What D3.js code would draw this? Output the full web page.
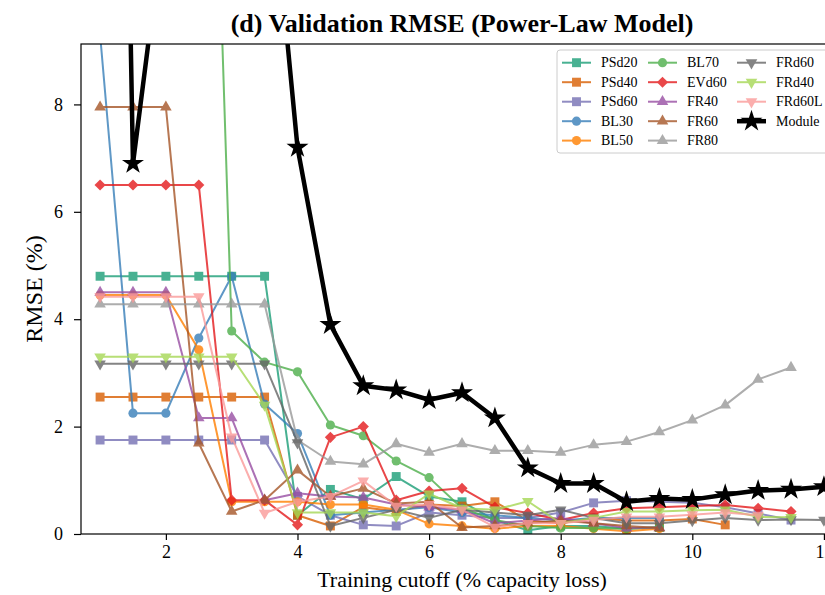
<!DOCTYPE html>
<html><head><meta charset="utf-8">
<script src="https://cdn.jsdelivr.net/npm/d3@7"></script>
<style>body{margin:0;background:#fff}svg{display:block}
svg text{font-family:"Liberation Serif","DejaVu Serif",serif}</style>
</head><body>
<script>
// ---- data ----
const cutoffs = [1,1.5,2,2.5,3,3.5,4,4.5,5,5.5,6,6.5,7,7.5,8,8.5,9,9.5,10,10.5,11,11.5,12];
const seriesNames = ["PSd20","PSd40","PSd60","BL30","BL50","BL70","EVd60","FR40","FR60","FR80","FRd60","FRd40","FRd60L","Module"];
const PSd20 = [4.8,4.8,4.8,4.8,4.8,4.8,0.35,0.83,0.65,1.07,0.7,0.6,0.26,0.07,0.15,0.15,0.1,0.12];
const PSd40 = [2.55,2.55,2.55,2.55,2.55,2.55,0.35,0.15,0.5,0.42,0.55,0.52,0.6,0.25,0.2,0.3,0.25,0.25,0.28,0.17];
const PSd60 = [1.75,1.75,1.75,1.75,1.75,1.75,0.7,0.35,0.17,0.15,0.4,0.35,0.3,0.3,0.4,0.58,0.62,0.6,0.58,0.5,0.38,0.26];
const BL30 = [9.3,2.25,2.25,3.65,4.8,2.42,1.87,0.35,0.4,0.45,0.5,0.4,0.35,0.3,0.25,0.3,0.3,0.3];
const BL50 = [4.45,4.45,4.45,3.43,0.6,0.6,0.6,0.55,0.55,0.45,0.19,0.15,0.1,0.15,0.15,0.1,0.05,0.1];
const BL70 = [30,28,25,22.7,3.78,3.2,3.02,2.03,1.83,1.36,1.05,0.48,0.26,0.15,0.11,0.11,0.1,0.13];
const EVd60 = [6.5,6.5,6.5,6.5,0.63,0.63,0.17,1.8,2.0,0.63,0.8,0.85,0.5,0.39,0.26,0.39,0.48,0.5,0.52,0.54,0.48,0.42];
const FR40 = [4.5,4.5,4.5,2.16,2.16,0.63,0.76,0.7,0.68,0.55,0.5,0.45,0.2,0.25,0.3,0.2,0.11,0.12];
const FR60 = [7.95,7.95,7.95,1.69,0.42,0.63,1.19,0.7,0.85,0.57,0.6,0.12,0.15,0.2,0.25,0.2,0.15,0.11];
const FR80 = [4.28,4.28,4.28,4.28,4.28,4.28,1.75,1.35,1.3,1.68,1.52,1.68,1.55,1.55,1.52,1.66,1.72,1.9,2.12,2.4,2.88,3.1];
const FRd60 = [3.17,3.17,3.17,3.17,3.17,3.17,1.7,0.15,0.3,0.45,0.3,0.45,0.4,0.35,0.45,0.3,0.2,0.2,0.25,0.3,0.26,0.27,0.26];
const FRd40 = [3.3,3.3,3.3,3.3,3.3,2.4,0.4,0.4,0.4,0.33,0.75,0.48,0.45,0.61,0.2,0.3,0.42,0.42,0.44,0.45,0.32,0.31];
const FRd60L = [4.42,4.42,4.42,4.42,1.81,0.39,0.6,0.7,0.99,0.52,0.55,0.45,0.13,0.2,0.2,0.26,0.32,0.32,0.36,0.4,0.35];
const Module = [40,6.9,11.7,14,15,13.6,7.2,3.9,2.76,2.68,2.5,2.63,2.16,1.23,0.94,0.94,0.6,0.66,0.64,0.73,0.81,0.83,0.88];
const xTicks = [2,4,6,8,10,12];
const yTicks = [0,2,4,6,8];
const titleText = "(d) Validation RMSE (Power-Law Model)";
const xLabel = "Training cutoff (% capacity loss)";
const yLabel = "RMSE (%)";

const values = {PSd20,PSd40,PSd60,BL30,BL50,BL70,EVd60,FR40,FR60,FR80,FRd60,FRd40,FRd60L,Module};
const colors = {PSd20:"#1b9e77",PSd40:"#d95f02",PSd60:"#7570b3",BL30:"#377eb8",BL50:"#ff7f00",BL70:"#4daf4a",
  EVd60:"#e41a1c",FR40:"#984ea3",FR60:"#a65628",FR80:"#999999",FRd60:"#666666",FRd40:"#a6d854",FRd60L:"#fb9a99",Module:"#000000"};
const markers = {PSd20:"s",PSd40:"s",PSd60:"s",BL30:"o",BL50:"o",BL70:"o",EVd60:"D",FR40:"^",FR60:"^",FR80:"^",
  FRd60:"v",FRd40:"v",FRd60L:"v",Module:"*"};

// ---- layout ----
const W = 825, H = 595;
const L = 81, R = 843, T = 44, B = 534;
const x = d3.scaleLinear().domain([0.71, 12.29]).range([L, R]);
const y = d3.scaleLinear().domain([0, 9.125]).range([B, T]);
const serif = '"Liberation Serif","DejaVu Serif",serif';

const svg = d3.select("body").append("svg").attr("width", W).attr("height", H);
svg.append("rect").attr("width", W).attr("height", H).attr("fill", "#fff");
svg.append("defs").append("clipPath").attr("id", "clip")
  .append("rect").attr("x", L).attr("y", T).attr("width", R - L).attr("height", B - T);

function markerPath(m) {
  switch (m) {
    case "s": return {d: d3.symbol(d3.symbolSquare, 80)(), rot: 0};
    case "o": return {d: d3.symbol(d3.symbolCircle, 66)(), rot: 0};
    case "D": return {d: d3.symbol(d3.symbolSquare, 62)(), rot: 45};
    case "^": return {d: d3.symbol(d3.symbolTriangle, 58)(), rot: 0};
    case "v": return {d: d3.symbol(d3.symbolTriangle, 58)(), rot: 180};
    case "*": return {d: d3.symbol(d3.symbolStar, 150)(), rot: 0};
  }
}

// ---- series ----
const plot = svg.append("g").attr("clip-path", "url(#clip)");
seriesNames.forEach(name => {
  const pts = values[name].map((v, i) => [cutoffs[i], v]);
  const isMod = name === "Module";
  const g = plot.append("g").attr("opacity", isMod ? 1 : 0.8);
  g.append("path").attr("d", d3.line().x(d => x(d[0])).y(d => y(d[1]))(pts))
    .attr("fill", "none").attr("stroke", colors[name]).attr("stroke-width", isMod ? 4.5 : 2)
    .attr("stroke-linejoin", "round");
  const mp = markerPath(markers[name]);
  g.selectAll("path.m").data(pts).join("path").attr("class", "m")
    .attr("d", mp.d).attr("fill", colors[name])
    .attr("transform", d => `translate(${x(d[0])},${y(d[1])}) rotate(${mp.rot})`);
});

// ---- axes ----
const xAxis = d3.axisBottom(x).tickValues(xTicks).tickSize(6).tickPadding(5).tickFormat(d3.format("d"));
const yAxis = d3.axisLeft(y).tickValues(yTicks).tickSize(7).tickPadding(11).tickFormat(d3.format("d"));
const gx = svg.append("g").attr("transform", `translate(0,${B})`).call(xAxis);
const gy = svg.append("g").attr("transform", `translate(${L},0)`).call(yAxis);
[gx, gy].forEach(g => {
  g.attr("font-family", serif).attr("font-size", 18);
  g.select(".domain").remove();
  g.selectAll("line").attr("stroke", "#000").attr("stroke-width", 1.2);
  g.selectAll("text").style("font-family", serif).style("font-size", "18px").attr("fill", "#000");
});
// frame
svg.append("rect").attr("x", L).attr("y", T).attr("width", R - L).attr("height", B - T)
  .attr("fill", "none").attr("stroke", "#000").attr("stroke-width", 1.2);

// ---- labels ----
svg.append("text").attr("x", 462).attr("y", 32).attr("text-anchor", "middle")
  .style("font-weight", "bold").style("font-size", "26px").text(titleText);
svg.append("text").attr("x", 462).attr("y", 587).attr("text-anchor", "middle")
  .style("font-size", "22px").text(xLabel);
svg.append("text").attr("transform", "translate(42,289) rotate(-90)").attr("text-anchor", "middle")
  .style("font-size", "24px").text(yLabel);

// ---- legend ----
const lg = svg.append("g");
lg.append("rect").attr("x", 557).attr("y", 50).attr("width", 300).attr("height", 103).attr("rx", 3)
  .attr("fill", "#fff").attr("fill-opacity", 0.8).attr("stroke", "#cccccc").attr("stroke-width", 1);
const colX = [562, 648, 737];
const rowY = [62.7, 82.2, 101.7, 121.2, 140.6];
seriesNames.forEach((name, i) => {
  const c = Math.floor(i / 5), r = i % 5;
  const hx = colX[c], hy = rowY[r];
  const isMod = name === "Module";
  const g = lg.append("g").attr("opacity", isMod ? 1 : 0.8);
  g.append("line").attr("x1", hx).attr("x2", hx + 29).attr("y1", hy).attr("y2", hy)
    .attr("stroke", colors[name]).attr("stroke-width", isMod ? 4.5 : 2);
  const mp = markerPath(markers[name]);
  g.append("path").attr("d", mp.d).attr("fill", colors[name])
    .attr("transform", `translate(${hx + 14.5},${hy}) rotate(${mp.rot})`);
  lg.append("text").attr("x", hx + 39).attr("y", hy + 4.5).style("font-size", "14px").text(name);
});
</script>
</body></html>
